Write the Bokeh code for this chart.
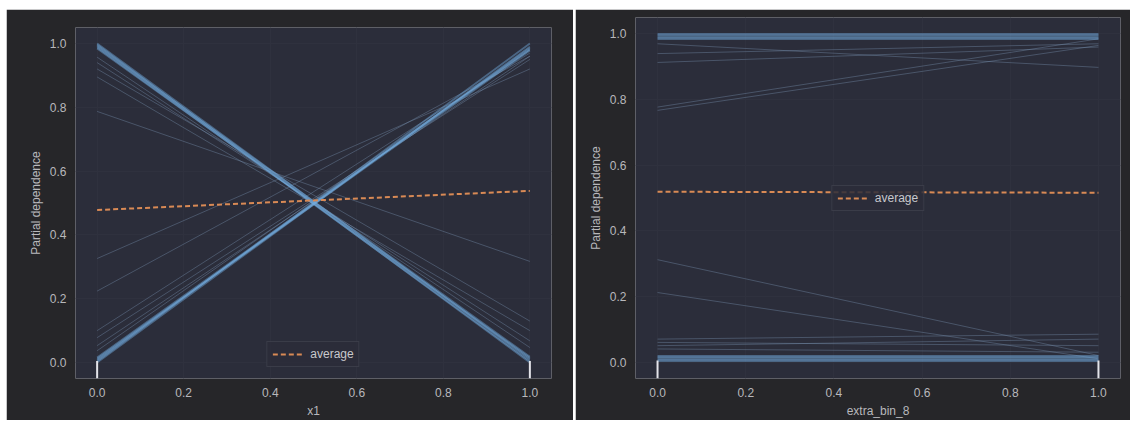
from bokeh.plotting import figure
from bokeh.layouts import row, column
from bokeh.models import ColumnDataSource, Range1d, FixedTicker, PrintfTickFormatter, Legend, LegendItem
from bokeh.embed import file_html
from bokeh.resources import INLINE

# ---------------- data ----------------
grid_x = [0.0, 1.0]
tick_vals = [0.0, 0.2, 0.4, 0.6, 0.8, 1.0]
deciles = [0.0, 1.0]

# panel 1 : x1  (ICE lines, value at x=0 and value at x=1)
x1_bundle_start = [1.0, 0.996, 0.992, 0.988, 0.984, 0.0, 0.004, 0.008, 0.012, 0.016]
x1_bundle_end = [0.01, 0.0, 0.018, 0.005, 0.014, 0.99, 1.0, 0.986, 0.978, 0.982]
x1_thin_start = [0.957, 0.94, 0.92, 0.895, 0.787, 0.326, 0.224, 0.10, 0.078, 0.053, 0.037]
x1_thin_end = [0.047, 0.068, 0.13, 0.10, 0.317, 0.92, 0.96, 0.97, 0.95, 0.96, 0.98]
x1_avg = [0.478, 0.538]

# panel 2 : extra_bin_8
b8_bundle_start = [0.996, 0.992, 1.0, 0.988, 0.984, 0.015, 0.011, 0.007, 0.019, 0.003]
b8_bundle_end = [0.996, 0.992, 1.0, 0.988, 0.984, 0.015, 0.011, 0.007, 0.019, 0.003]
b8_thin_start = [0.97, 0.913, 0.94, 0.777, 0.767, 0.312, 0.212, 0.07, 0.06, 0.05, 0.04]
b8_thin_end = [0.898, 0.96, 0.97, 0.985, 0.965, 0.02, 0.01, 0.085, 0.05, 0.07, 0.03]
b8_avg = [0.519, 0.516]

# ---------------- style ----------------
OUTER = "#262629"
INNER = "#2b2d3a"
GRID = "#2f313e"
TEXT = "#b8b8bc"
ICE = "#74ace0"
THIN = "#7890b0"
AVG = "#d98a55"
FONT = "Liberation Sans"


def panel(xlabel, bundle_s, bundle_e, thin_s, thin_e, avg, width, borders, legend_loc, legend_margin):
    left, right, top, bottom = borders
    p = figure(width=width, height=411, x_range=Range1d(-0.05, 1.05), y_range=Range1d(-0.05, 1.05),
               output_backend="svg", toolbar_location=None, title=None,
               min_border_left=left, min_border_right=right, min_border_top=top, min_border_bottom=bottom)
    p.border_fill_color = OUTER
    p.background_fill_color = INNER
    p.outline_line_color = None

    thin_src = ColumnDataSource(dict(xs=[grid_x for _ in thin_s], ys=[[a, b] for a, b in zip(thin_s, thin_e)]))
    p.multi_line("xs", "ys", source=thin_src, line_color=THIN, line_alpha=0.4, line_width=1)
    b_src = ColumnDataSource(dict(xs=[grid_x for _ in bundle_s], ys=[[a, b] for a, b in zip(bundle_s, bundle_e)]))
    p.multi_line("xs", "ys", source=b_src, line_color=ICE, line_alpha=0.45, line_width=1.8)

    avg_r = p.line(grid_x, avg, line_color=AVG, line_width=2, line_dash="5 3")

    p.segment(x0=deciles, y0=[-0.05] * len(deciles), x1=deciles, y1=[0.005] * len(deciles),
              line_color="#e4e4ea", line_width=2)

    for ax in (p.xaxis[0], p.yaxis[0]):
        ax.ticker = FixedTicker(ticks=tick_vals)
        ax.formatter = PrintfTickFormatter(format="%.1f")
        ax.axis_line_color = None
        ax.major_tick_line_color = None
        ax.minor_tick_line_color = None
        ax.major_tick_out = 0
        ax.major_tick_in = 0
        ax.major_label_text_color = TEXT
        ax.major_label_text_font = FONT
        ax.major_label_text_font_size = "12px"
        ax.axis_label_text_color = TEXT
        ax.axis_label_text_font = FONT
        ax.axis_label_text_font_size = "12px"
        ax.axis_label_text_font_style = "normal"
    p.xaxis.axis_label = xlabel
    p.yaxis.axis_label = "Partial dependence"
    p.xaxis.major_label_standoff = 9
    p.xaxis.axis_label_standoff = 4
    p.yaxis.major_label_standoff = 9
    p.yaxis.axis_label_standoff = 4

    p.xgrid.ticker = FixedTicker(ticks=tick_vals)
    p.ygrid.ticker = FixedTicker(ticks=tick_vals)
    p.grid.grid_line_color = GRID
    p.grid.grid_line_width = 1

    legend = Legend(items=[LegendItem(label="average", renderers=[avg_r])], location=legend_loc)
    legend.margin = legend_margin
    legend.label_text_color = "#c8c8cc"
    legend.label_text_font = FONT
    legend.label_text_font_size = "12px"
    legend.background_fill_color = INNER
    legend.background_fill_alpha = 0.85
    legend.border_line_color = "#4a4c58"
    legend.border_line_width = 1
    legend.glyph_width = 30
    legend.glyph_height = 12
    legend.padding = 5
    legend.label_standoff = 8
    p.add_layout(legend, "center")
    return p


p1 = panel("x1", x1_bundle_start, x1_bundle_end, x1_thin_start, x1_thin_end, x1_avg,
           567, (69, 22, 18, 39), "bottom_center", 11)
p2 = panel("extra_bin_8", b8_bundle_start, b8_bundle_end, b8_thin_start, b8_thin_end, b8_avg,
           555, (60, 10, 8, 40), "center", 0)

layout = row(column(p1), column(p2), spacing=2)
layout.margin = (9, 0, 0, 6)
open("out.html", "w").write(file_html(layout, INLINE))
